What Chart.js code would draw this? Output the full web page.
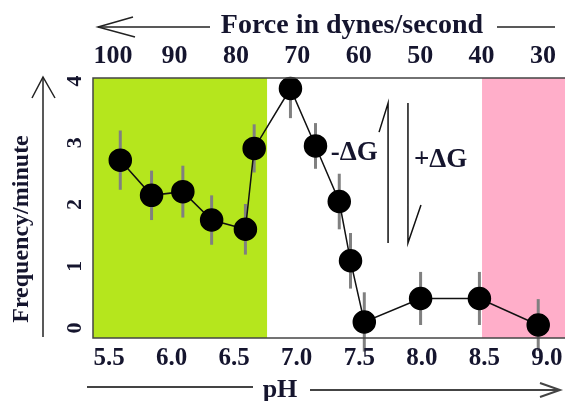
<!DOCTYPE html>
<html lang="en">
<head>
    <meta charset="UTF-8">
    <title>Frequency vs pH</title>
    <script src="https://cdn.jsdelivr.net/npm/chart.js"></script>
    <style>
        html, body { margin: 0; padding: 0; background: #fff; }
        #wrap { width: 565px; height: 401px; }
    </style>
</head>
<body>
<div id="wrap"><canvas id="grafica" width="565" height="401"></canvas></div>
<script>
    // datos
    const phVals   = [5.59, 5.84, 6.09, 6.32, 6.59, 6.66, 6.95, 7.15, 7.34, 7.43, 7.54, 7.99, 8.46, 8.93];
    const freqVals = [2.72, 2.15, 2.21, 1.75, 1.60, 2.91, 3.88, 2.95, 2.05, 1.09, 0.10, 0.48, 0.48, 0.05];
    const errVals  = [0.48, 0.40, 0.42, 0.40, 0.41, 0.39, 0.48, 0.37, 0.45, 0.45, 0.48, 0.43, 0.43, 0.42];

    const phTicks    = [5.5, 6.0, 6.5, 7.0, 7.5, 8.0, 8.5, 9.0];
    const forceTicks = [100, 90, 80, 70, 60, 50, 40, 30];
    const freqTicks  = [0, 1, 2, 3, 4];

    // zonas de fondo (pH)
    const greenZone = [5.372, 6.763];
    const pinkZone  = [8.481, 9.144];

    // anotaciones delta G (pH, frecuencia)
    const dgMinus = { text: '-ΔG', x: 7.46, y: 2.72 };
    const dgPlus  = { text: '+ΔG', x: 8.15, y: 2.61 };
    const harpoon1 = [[7.658, 3.174], [7.730, 3.644], [7.730, 1.377]];
    const harpoon2 = [[7.889, 3.644], [7.889, 1.377], [7.993, 1.992]];

    const SERIF = '"Liberation Serif", "Times New Roman", serif';
    const TXT = '#15152e';

    function linea(ctx, pts) {
        ctx.beginPath();
        ctx.moveTo(pts[0][0], pts[0][1]);
        for (let i = 1; i < pts.length; i++) ctx.lineTo(pts[i][0], pts[i][1]);
        ctx.stroke();
    }

    const decoracion = {
        id: 'decoracion',
        beforeDatasetsDraw(chart) {
            const { ctx, chartArea: a, scales: { x, y } } = chart;
            ctx.save();
            ctx.fillStyle = '#B5E61D';
            ctx.fillRect(x.getPixelForValue(greenZone[0]), a.top, x.getPixelForValue(greenZone[1]) - x.getPixelForValue(greenZone[0]), a.bottom - a.top);
            ctx.fillStyle = '#FFAEC9';
            ctx.fillRect(x.getPixelForValue(pinkZone[0]), a.top, x.getPixelForValue(pinkZone[1]) - x.getPixelForValue(pinkZone[0]), a.bottom - a.top);

            // barras de error
            ctx.strokeStyle = '#808080';
            ctx.lineWidth = 3;
            phVals.forEach((p, i) => {
                const px = x.getPixelForValue(p);
                const top = Math.max(a.top, y.getPixelForValue(freqVals[i] + errVals[i]));
                linea(ctx, [[px, top], [px, y.getPixelForValue(freqVals[i] - errVals[i])]]);
            });
            ctx.restore();
        },
        afterDatasetsDraw(chart) {
            const { ctx, chartArea: a } = chart;
            ctx.save();
            ctx.strokeStyle = '#444';
            ctx.lineWidth = 1.5;
            ctx.strokeRect(a.left, a.top, a.right - a.left + 2, a.bottom - a.top);
            ctx.restore();
        },
        afterDraw(chart) {
            const { ctx, chartArea: a, scales: { x, y, x2 } } = chart;
            ctx.save();
            ctx.fillStyle = TXT;
            ctx.textAlign = 'center';

            // eje inferior
            ctx.font = 'bold 25px ' + SERIF;
            ctx.textBaseline = 'alphabetic';
            phTicks.forEach(t => ctx.fillText(t.toFixed(1), x.getPixelForValue(t), a.bottom + 27));
            ctx.font = 'bold 26px ' + SERIF;
            ctx.fillText('pH', 280, 397);

            // eje superior
            forceTicks.forEach(t => ctx.fillText(String(t), x2.getPixelForValue(t), 63));
            ctx.font = 'bold 28px ' + SERIF;
            ctx.fillText('Force in dynes/second', 352, 33);

            // eje y
            ctx.font = 'bold 22px ' + SERIF;
            ctx.textBaseline = 'middle';
            freqTicks.forEach(t => {
                ctx.save();
                ctx.translate(75, y.getPixelForValue(t));
                ctx.rotate(-Math.PI / 2);
                ctx.fillText(String(t), 0, 0);
                ctx.restore();
            });
            ctx.save();
            ctx.font = 'bold 24px ' + SERIF;
            ctx.translate(22, 229);
            ctx.rotate(-Math.PI / 2);
            ctx.fillText('Frequency/minute', 0, 0);
            ctx.restore();

            // delta G
            ctx.font = 'bold 27px ' + SERIF;
            ctx.textBaseline = 'alphabetic';
            [dgMinus, dgPlus].forEach(d => ctx.fillText(d.text, x.getPixelForValue(d.x), y.getPixelForValue(d.y)));
            ctx.strokeStyle = '#111';
            ctx.lineWidth = 1.5;
            [harpoon1, harpoon2].forEach(h => linea(ctx, h.map(p => [x.getPixelForValue(p[0]), y.getPixelForValue(p[1])])));

            // flechas
            ctx.strokeStyle = '#222';
            ctx.lineWidth = 1.5;
            linea(ctx, [[98, 27], [210, 27]]);
            linea(ctx, [[133, 17], [98, 27], [135, 37]]);
            linea(ctx, [[497, 27], [555, 27]]);
            linea(ctx, [[43, 337], [43, 77]]);
            linea(ctx, [[32, 98], [43, 77], [55, 98]]);
            ctx.lineWidth = 2;
            ctx.strokeStyle = '#444';
            linea(ctx, [[87, 387], [253, 387]]);
            linea(ctx, [[310, 390], [560, 390]]);
            linea(ctx, [[540, 383], [560, 390], [540, 397]]);
            ctx.restore();
        }
    };

    const ctx = document.getElementById('grafica').getContext('2d');
    const grafica = new Chart(ctx, {
        type: 'line',
        data: {
            datasets: [{
                data: phVals.map((p, i) => ({ x: p, y: freqVals[i] })),
                borderColor: '#111',
                borderWidth: 1.5,
                backgroundColor: '#000',
                pointBackgroundColor: '#000',
                pointBorderColor: '#000',
                pointRadius: 11,
                tension: 0,
                clip: false
            }]
        },
        options: {
            responsive: false,
            animation: false,
            layout: { autoPadding: false, padding: { left: 93, top: 78, right: 0, bottom: 63 } },
            plugins: { legend: { display: false }, tooltip: { enabled: false } },
            scales: {
                x: { type: 'linear', min: 5.372, max: 9.144, display: false },
                x2: { type: 'linear', min: 26.42, max: 103.26, reverse: true, display: false },
                y: { type: 'linear', min: -0.16, max: 4.05, display: false }
            }
        },
        plugins: [decoracion]
    });
</script>
</body>
</html>
